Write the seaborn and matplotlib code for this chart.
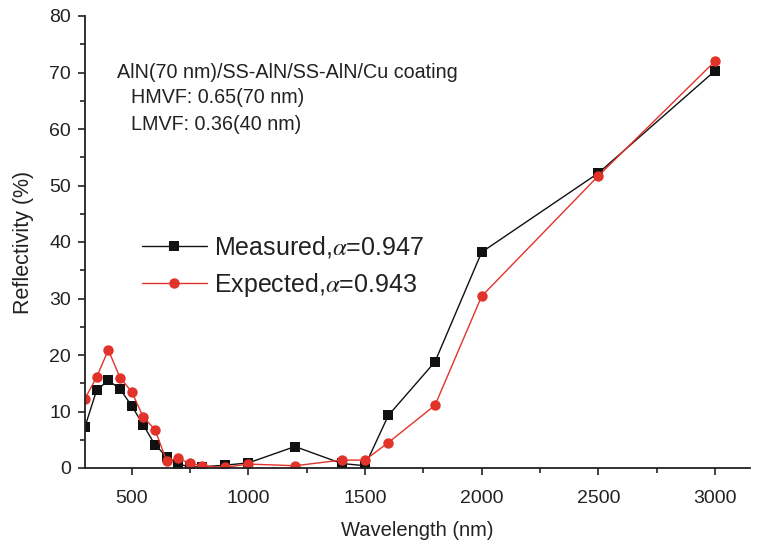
import matplotlib
matplotlib.use("Agg")
import matplotlib.pyplot as plt
from matplotlib.ticker import MultipleLocator
import seaborn as sns
import pandas as pd

wavelength = [300, 350, 400, 450, 500, 550, 600, 650, 700, 750, 800, 900, 1000,
              1200, 1400, 1500, 1600, 1800, 2000, 2500, 3000]
measured = [7.3, 13.8, 15.5, 14.0, 11.0, 7.6, 4.1, 2.0, 0.7, 0.2, 0.2, 0.5, 0.9,
            3.8, 0.8, 0.4, 9.3, 18.8, 38.2, 52.2, 70.3]
expected = [12.3, 16.1, 20.9, 16.0, 13.5, 9.0, 6.8, 1.2, 1.7, 0.8, 0.4, 0.1, 0.7,
            0.4, 1.4, 1.4, 4.5, 11.1, 30.4, 51.7, 72.0]
series_names = ["Measured,$\\alpha$=0.947", "Expected,$\\alpha$=0.943"]
annotation_lines = ["AlN(70 nm)/SS-AlN/SS-AlN/Cu coating",
                    "HMVF: 0.65(70 nm)",
                    "LMVF: 0.36(40 nm)"]

df = pd.DataFrame({
    "Wavelength": wavelength * 2,
    "Reflectivity": measured + expected,
    "Series": [series_names[0]] * len(wavelength) + [series_names[1]] * len(wavelength),
})

sns.set_style("ticks")
plt.rcParams["font.family"] = ["Liberation Sans", "DejaVu Sans"]
plt.rcParams["mathtext.fontset"] = "stix"

fig = plt.figure(figsize=(7.67, 5.46), dpi=100)
ax = fig.add_axes([85 / 767, 1 - 468 / 546, (750 - 85) / 767, (468 - 16) / 546])

sns.lineplot(data=df, x="Wavelength", y="Reflectivity", hue="Series", style="Series",
             palette={series_names[0]: "#111111", series_names[1]: "#e2332a"},
             markers={series_names[0]: "s", series_names[1]: "o"},
             dashes=False, markersize=7.5, linewidth=1.0, markeredgewidth=0,
             ax=ax, legend=True)

ax.set_xlim(300, 3150)
ax.set_ylim(0, 80)
ax.xaxis.set_major_locator(MultipleLocator(500))
ax.xaxis.set_minor_locator(MultipleLocator(250))
ax.yaxis.set_major_locator(MultipleLocator(10))
ax.yaxis.set_minor_locator(MultipleLocator(5))
ax.tick_params(axis="both", which="major", direction="out", length=5, width=1.2,
               labelsize=14, colors="#222222")
ax.tick_params(axis="x", which="major", pad=11)
ax.tick_params(axis="y", which="major", pad=5)
ax.tick_params(axis="both", which="minor", direction="out", length=3.5, width=1.2,
               colors="#222222")
for s in ["top", "right"]:
    ax.spines[s].set_visible(False)
for s in ["left", "bottom"]:
    ax.spines[s].set_linewidth(1.3)
    ax.spines[s].set_color("#222222")

ax.set_xlabel("Wavelength (nm)", fontsize=14.5, color="#222222", labelpad=10)
ax.set_ylabel("Reflectivity (%)", fontsize=15.5, color="#222222", labelpad=11)

ann_x = [0.048, 0.069, 0.069]
ann_y = [0.876, 0.819, 0.761]
for tx, ty, line in zip(ann_x, ann_y, annotation_lines):
    ax.text(tx, ty, line, transform=ax.transAxes, fontsize=14.2, va="center",
            ha="left", color="#222222")

leg = ax.legend(loc="upper left", bbox_to_anchor=(0.07, 0.54), frameon=False,
                fontsize=18, handlelength=2.6, handletextpad=0.3, labelspacing=0.45,
                borderaxespad=0)
for t in leg.get_texts():
    t.set_color("#222222")

fig.savefig("out.png", dpi=100)
